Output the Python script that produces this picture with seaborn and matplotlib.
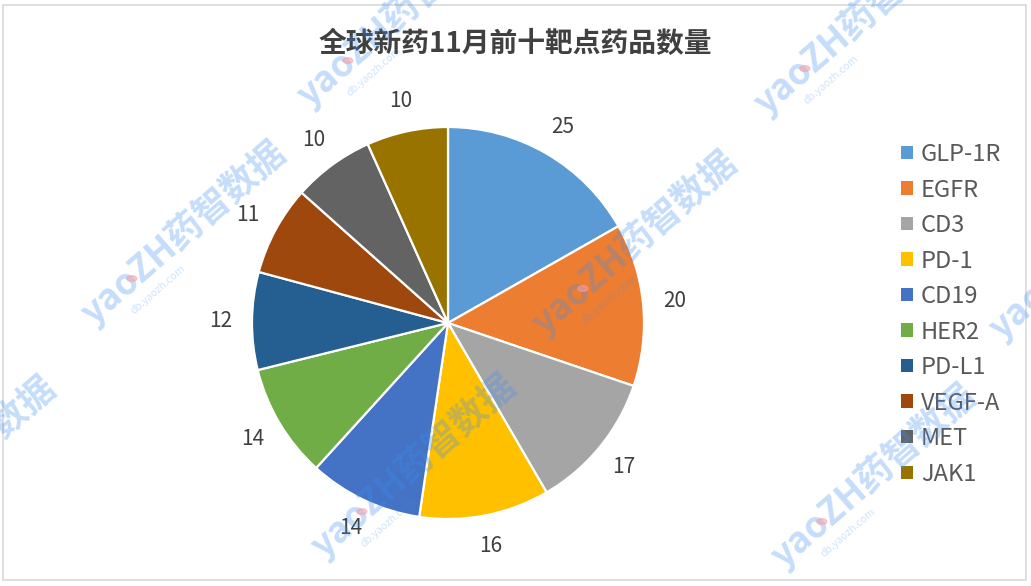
import numpy as np
import matplotlib
matplotlib.use("Agg")
import matplotlib.pyplot as plt
import seaborn as sns
from matplotlib.patches import Rectangle, Patch

# Targets and the number of drugs for each
targets = ["GLP-1R", "EGFR", "CD3", "PD-1", "CD19", "HER2", "PD-L1", "VEGF-A", "MET", "JAK1"]
counts = [25, 20, 17, 16, 14, 14, 12, 11, 10, 10]
title = "全球新药11月前十靶点药品数量"

slice_colors = ["#5B9BD5", "#ED7D31", "#A5A5A5", "#FFC000", "#4472C4",
                "#70AD47", "#255E91", "#9E480E", "#636363", "#997300"]

sns.set_theme(style="white")
plt.rcParams["font.family"] = ["Noto Sans CJK SC", "DejaVu Sans"]

W, H = 1031, 586
fig = plt.figure(figsize=(W / 100, H / 100), dpi=100)
fig.patch.set_facecolor("white")


def px(x, y):
    """Pixel position (from top-left) to figure fraction."""
    return x / W, 1 - y / H


# outer chart frame
fig.patches.append(Rectangle(px(3, 580), 1023 / W, 575 / H, transform=fig.transFigure,
                             fill=False, edgecolor="#D9D9D9", linewidth=1.2, zorder=0))

# pie area: centre (448, 323), radius 196 px
cx, cy, r = 448, 323, 196
ax = fig.add_axes([(cx - r) / W, (H - cy - r) / H, 2 * r / W, 2 * r / H])
palette = sns.color_palette(slice_colors)
wedges, texts = ax.pie(
    counts, colors=palette, startangle=90, counterclock=False, radius=1,
    labels=[str(c) for c in counts], labeldistance=1.16,
    wedgeprops=dict(edgecolor="white", linewidth=1.6),
    textprops=dict(fontsize=15, color="#404040"),
)
for t in texts:
    t.set_horizontalalignment("center")
    t.set_verticalalignment("center")
ax.set_xlim(-1, 1)
ax.set_ylim(-1, 1)
ax.set_aspect("equal")
ax.axis("off")

fig.text(*px(515, 44), title, ha="center", va="center", fontsize=20,
         fontweight="bold", color="#404040")

handles = [Patch(facecolor=c, edgecolor="none") for c in palette]
fig.legend(handles, targets, loc="upper left", bbox_to_anchor=px(901, 143),
           frameon=False, fontsize=17, labelcolor="#595959",
           handlelength=0.5, handleheight=0.5, handletextpad=0.35,
           labelspacing=0.53, borderaxespad=0, borderpad=0)

# repeated site watermark
ang = 41
u = np.array([np.cos(np.radians(ang)), -np.sin(np.radians(ang))])
n = np.array([np.sin(np.radians(ang)), np.cos(np.radians(ang))])
marks = [(313, 112), (770, 120), (97, 330), (548, 340), (1005, 345),
         (-133, 565), (327, 563), (787, 573)]
for (mx, my) in marks:
    a = np.array([mx, my]) - 6 * n
    fig.text(*px(*a), "yaoZH药智数据", rotation=ang, rotation_mode="anchor",
             ha="left", va="baseline", fontsize=26, fontweight="bold",
             color="#3D8FF0", alpha=0.3, zorder=10)
    d = a + 38 * u + 19 * n
    fig.text(*px(*d), "db.yaozh.com", rotation=ang, rotation_mode="anchor",
             ha="left", va="baseline", fontsize=7.5, color="#3D8FF0",
             alpha=0.25, zorder=10)
    p = a + 60 * u - 10 * n
    fig.patches.append(plt.Circle(px(*p), 5 / W, transform=fig.transFigure,
                                  color="#F4A0A8", alpha=0.55, zorder=11))

fig.savefig("out.png", dpi=100, facecolor="white")
